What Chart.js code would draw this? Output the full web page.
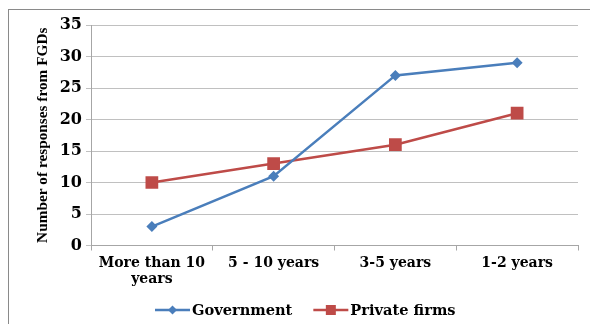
<!DOCTYPE html>
<html>
<head>
<meta charset="utf-8">
<script src="https://cdn.jsdelivr.net/npm/chart.js@4"></script>
<style>
  html, body { margin: 0; padding: 0; background: #fff; overflow: hidden; }
  #wrap { position: relative; width: 590px; height: 324px; }
  #frame { position: absolute; left: 8px; top: 9px; width: 600px; height: 330px; border: 1px solid #8a8a8a; box-sizing: border-box; pointer-events: none; }
  canvas { position: absolute; left: 0; top: 0; }
</style>
</head>
<body>
<div id="wrap">
  <div id="frame"></div>
  <canvas id="c" width="590" height="324"></canvas>
</div>
<script>
const categories = [["More than 10", "years"], "5 - 10 years", "3-5 years", "1-2 years"];
const government = [3, 11, 27, 29];
const privateFirms = [10, 13, 16, 21];
const seriesNames = ["Government", "Private firms"];
const yAxisTitle = "Number of responses from FGDs";

const BLUE = "#4a7ebb";
const RED = "#be4b48";
const LABEL_FONT = { family: "'DejaVu Serif', serif", size: 14, weight: "bold" };

const customLegend = {
  id: "customLegend",
  afterDraw(chart) {
    const ctx = chart.ctx;
    const y = 310;
    let x = 155;
    ctx.save();
    ctx.font = "bold 14.6px 'DejaVu Serif', serif";
    ctx.textBaseline = "middle";
    ctx.textAlign = "left";
    chart.data.datasets.forEach((ds, i) => {
      const lw = 35;
      ctx.strokeStyle = ds.borderColor;
      ctx.lineWidth = 2.5;
      ctx.beginPath();
      ctx.moveTo(x, y);
      ctx.lineTo(x + lw, y);
      ctx.stroke();
      ctx.fillStyle = ds.pointBackgroundColor;
      const cx = x + lw / 2;
      if (ds.pointStyle === "rectRot") {
        ctx.beginPath();
        ctx.moveTo(cx, y - 4.5);
        ctx.lineTo(cx + 4.5, y);
        ctx.lineTo(cx, y + 4.5);
        ctx.lineTo(cx - 4.5, y);
        ctx.closePath();
        ctx.fill();
      } else {
        ctx.fillRect(cx - 5, y - 5, 10, 10);
      }
      ctx.fillStyle = "#000";
      ctx.fillText(ds.label, x + lw + 2, y + 1);
      x += lw + 2 + ctx.measureText(ds.label).width + 21;
    });
    ctx.restore();
  }
};

new Chart(document.getElementById("c"), {
  type: "line",
  data: {
    labels: categories,
    datasets: [
      {
        label: seriesNames[0],
        data: government,
        borderColor: BLUE,
        backgroundColor: BLUE,
        pointBackgroundColor: BLUE,
        pointBorderColor: BLUE,
        pointStyle: "rectRot",
        pointRadius: 5.5,
        pointBorderWidth: 0,
        borderWidth: 2.5,
        tension: 0
      },
      {
        label: seriesNames[1],
        data: privateFirms,
        borderColor: RED,
        backgroundColor: RED,
        pointBackgroundColor: RED,
        pointBorderColor: RED,
        pointStyle: "rect",
        pointRadius: 9,
        pointBorderWidth: 0,
        borderWidth: 2.5,
        tension: 0
      }
    ]
  },
  options: {
    responsive: false,
    animation: false,
    events: [],
    layout: { padding: { left: 0, right: 12, top: 25, bottom: 30 } },
    plugins: {
      legend: { display: false },
      tooltip: { enabled: false },
      title: { display: false }
    },
    scales: {
      x: {
        offset: true,
        grid: {
          offset: true,
          drawOnChartArea: false,
          drawTicks: true,
          tickLength: 5,
          color: "#a6a6a6"
        },
        border: { color: "#a6a6a6", width: 1 },
        ticks: {
          color: "#000",
          font: LABEL_FONT,
          padding: 4,
          maxRotation: 0,
          autoSkip: false
        },
        afterFit(scale) { scale.height = 48.5; }
      },
      y: {
        min: 0,
        max: 35,
        ticks: {
          stepSize: 5,
          color: "#000",
          font: { family: "'DejaVu Serif', serif", size: 16, weight: "bold" },
          padding: 4
        },
        grid: {
          color: "#c0c0c0",
          lineWidth: 1,
          tickLength: 5
        },
        border: { color: "#a6a6a6", width: 1 },
        title: {
          display: true,
          text: yAxisTitle,
          color: "#000",
          font: { family: "'Liberation Serif', serif", size: 15.3, weight: "bold" },
          padding: { top: 34, bottom: 0 }
        },
        afterFit(scale) { scale.width = 91; }
      }
    }
  },
  plugins: [customLegend]
});
</script>
</body>
</html>
